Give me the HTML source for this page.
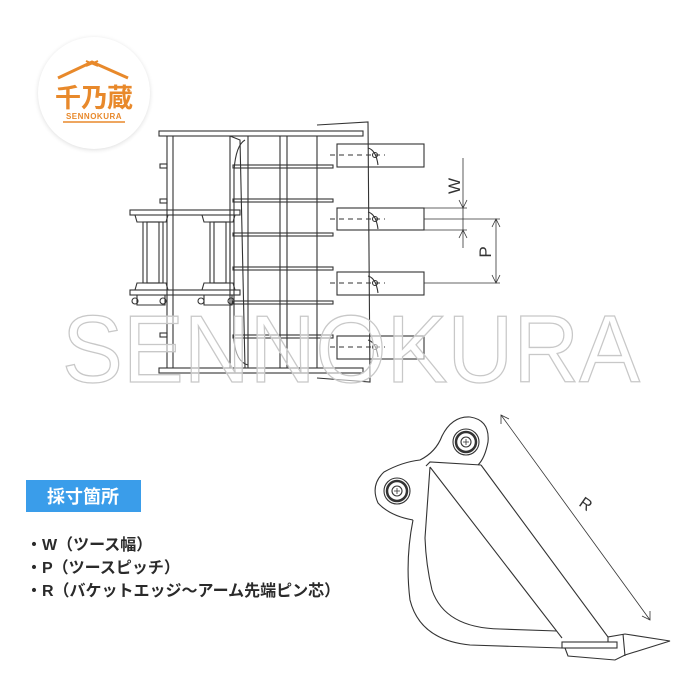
<!DOCTYPE html>
<html><head><meta charset="utf-8"><style>
html,body{margin:0;padding:0;background:#fff;}
body{width:700px;height:700px;overflow:hidden;position:relative;font-family:"Liberation Sans","Noto Sans CJK JP",sans-serif;}
</style></head><body>
<svg width="700" height="700" viewBox="0 0 700 700" xmlns="http://www.w3.org/2000/svg" style="position:absolute;left:0;top:0">
<defs>
<radialGradient id="sh" cx="50%" cy="50%" r="50%">
<stop offset="88%" stop-color="#ddd"/><stop offset="100%" stop-color="#fff" stop-opacity="0"/>
</radialGradient>
</defs>
<circle cx="94" cy="94" r="61" fill="url(#sh)"/>
<circle cx="94" cy="93" r="56" fill="#fff"/>
<path d="M58 78 L92 62 L128 78" fill="none" stroke="#e8892b" stroke-width="3"/>
<path d="M86 61 L98 66 M98 61 L86 66" stroke="#e8892b" stroke-width="2"/>
<text x="94" y="107" text-anchor="middle" font-family="'Noto Sans CJK JP',sans-serif" font-weight="bold" font-size="26" fill="#e8892b">千乃蔵</text>
<text x="94" y="119" text-anchor="middle" font-family="'Liberation Sans',sans-serif" font-weight="bold" font-size="8" fill="#e8892b" letter-spacing="0.5">SENNOKURA</text>
<line x1="63" y1="122" x2="125" y2="122" stroke="#e8892b" stroke-width="1.5"/>

<g fill="none" stroke="#333" stroke-width="1.1">
<path d="M317 125 L368 122 L370 382 L317 378"/>
<rect x="159" y="131" width="204" height="5"/>
<rect x="159" y="368" width="204" height="5"/>
<line x1="167" y1="136" x2="167" y2="368"/><line x1="173" y1="136" x2="173" y2="368"/>
<line x1="230" y1="136" x2="230" y2="368"/>
<path d="M230 136 L240 140 L245 368"/>
<path d="M245 140 Q236 145 234 170 L234 340 Q236 362 248 365"/>
<line x1="248" y1="136" x2="248" y2="368"/>
<line x1="280" y1="136" x2="280" y2="368"/>
<line x1="287" y1="136" x2="287" y2="368"/>
<line x1="317" y1="136" x2="317" y2="368"/>
<g>
<rect x="233" y="165" width="100" height="3"/>
<rect x="233" y="199" width="100" height="3"/>
<rect x="233" y="233" width="100" height="3"/>
<rect x="233" y="267" width="100" height="3"/>
<rect x="233" y="301" width="100" height="3"/>
<rect x="233" y="335" width="100" height="3"/>
</g>
<rect x="160" y="164" width="7" height="4"/><rect x="160" y="199" width="7" height="4"/><rect x="160" y="333" width="7" height="4"/>
<rect x="130" y="210" width="110" height="5"/>
<rect x="130" y="290" width="110" height="5"/>
<path d="M135 215 L168 215 L166 222 L137 222 Z M202 215 L235 215 L233 222 L204 222 Z"/>
<path d="M135 290 L168 290 L166 283 L137 283 Z M202 290 L235 290 L233 283 L204 283 Z"/>
<rect x="143" y="222" width="20" height="61"/><rect x="147" y="222" width="12" height="61"/>
<rect x="210" y="222" width="20" height="61"/><rect x="214" y="222" width="12" height="61"/>
<path d="M137 295 L137 305 L165 305 L165 295 M204 295 L204 305 L232 305 L232 295"/>
<circle cx="135" cy="301" r="3"/><circle cx="163" cy="301" r="3"/><circle cx="201" cy="301" r="3"/><circle cx="231" cy="301" r="3"/>
<g>
<rect x="337" y="144" width="87" height="23"/>
<rect x="337" y="208" width="87" height="22"/>
<rect x="337" y="272" width="87" height="23"/>
<rect x="337" y="336" width="87" height="23"/>
</g>
<g stroke-dasharray="5 4">
<line x1="330" y1="155" x2="385" y2="155"/><line x1="330" y1="219" x2="385" y2="219"/>
<line x1="330" y1="283" x2="385" y2="283"/><line x1="330" y1="347" x2="385" y2="347"/>
</g>
<path d="M368 148 Q376 150 378 165 M368 212 Q376 214 378 229 M368 276 Q376 278 378 293 M368 340 Q376 342 378 357"/>
<circle cx="375" cy="155" r="2.5"/><circle cx="375" cy="219" r="2.5"/><circle cx="375" cy="283" r="2.5"/><circle cx="375" cy="347" r="2.5"/>
<g stroke-width="0.8">
<line x1="424" y1="208" x2="467" y2="208"/><line x1="424" y1="230" x2="467" y2="230"/>
<line x1="463" y1="158" x2="463" y2="248"/>
<path d="M459 200 L463 208 L467 200 M459 238 L463 230 L467 238"/>
<line x1="424" y1="219" x2="500" y2="219"/><line x1="424" y1="283" x2="500" y2="283"/>
<line x1="496" y1="219" x2="496" y2="283"/>
<path d="M492 227 L496 219 L500 227 M492 275 L496 283 L500 275"/>
</g>
</g>
<text x="0" y="0" transform="translate(460,186) rotate(-90)" font-size="17" fill="#333" text-anchor="middle">W</text>
<text x="0" y="0" transform="translate(491,252) rotate(-90)" font-size="17" fill="#333" text-anchor="middle">P</text>

<text x="62" y="382" font-family="'Liberation Sans',sans-serif" font-size="96" fill="#fff" fill-opacity="0.55" stroke="#c8c8c8" stroke-width="1.3" textLength="578" lengthAdjust="spacingAndGlyphs">SENNOKURA</text>

<g fill="none" stroke="#333" stroke-width="1.1">
<path d="M413 520 Q405 560 410 600 Q420 640 470 645 L562 648"/>
<path d="M425 538 Q426 565 432 590 Q445 628 500 629 L557 631"/>
<path d="M413 520 Q390 516 378 503 Q370 485 384 472 Q402 462 420 460 Q436 452 442 436 Q452 416 470 417 Q490 420 488 442 Q485 458 478 465"/>
<path d="M426 466 L430 462 L481 465"/>
<path d="M425 538 L430 467 M430 467 L562 638 M481 465 L608 637"/>
<circle cx="466" cy="442" r="13"/><circle cx="466" cy="442" r="10" stroke-width="2.5"/><circle cx="466" cy="442" r="5"/>
<circle cx="397" cy="491" r="13"/><circle cx="397" cy="491" r="10" stroke-width="2.5"/><circle cx="397" cy="491" r="5"/>
<path d="M463 442 h6 M466 439 v6 M394 491 h6 M397 488 v6" stroke-width="0.8"/>
<rect x="562" y="642" width="55" height="6"/>
<path d="M565 648 L568 656 L615 660 L625 655 L670 641 L625 634 L608 637 L608 642"/>
<line x1="623" y1="634" x2="625" y2="656"/>
<g stroke-width="0.8">
<line x1="501" y1="415" x2="650" y2="620"/>
<path d="M501 424 L501 415 L509 419 M642 616 L650 620 L650 611"/>
</g>
</g>
<text x="0" y="0" transform="translate(578,505) rotate(35)" font-size="16" fill="#333">R</text>

<rect x="26" y="480" width="115" height="32" fill="#3a9dea"/>
<text x="83" y="503" text-anchor="middle" font-family="'Noto Sans CJK JP',sans-serif" font-weight="bold" font-size="18" fill="#fff">採寸箇所</text>
<g font-family="'Liberation Sans','Noto Sans CJK JP',sans-serif" font-size="16" font-weight="bold" fill="#2a2a2a">
<text x="26" y="550">・W（ツース幅）</text>
<text x="26" y="573">・P（ツースピッチ）</text>
<text x="26" y="596">・R（バケットエッジ～アーム先端ピン芯）</text>
</g>
</svg>
</body></html>
